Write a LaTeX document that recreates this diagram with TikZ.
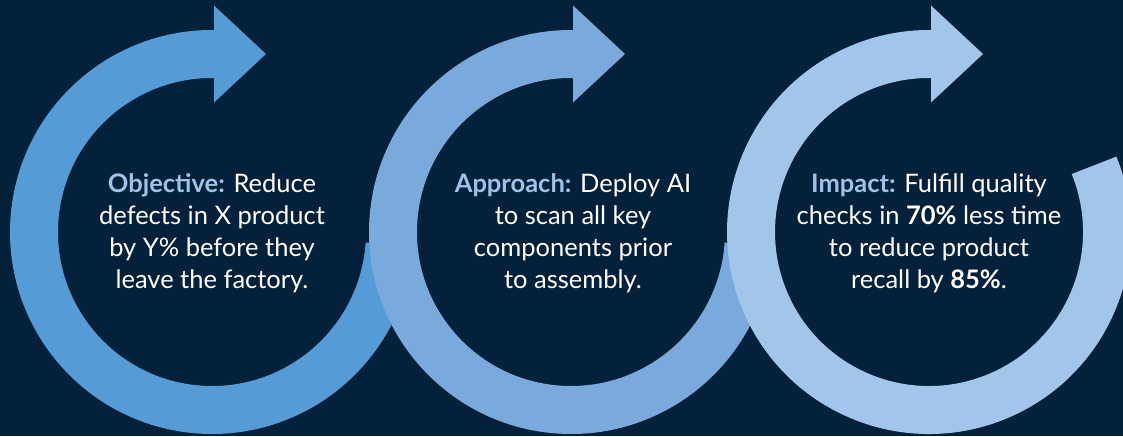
\documentclass[tikz,border=0pt]{standalone}
\usepackage{fontspec}
\setmainfont{Lato}
\definecolor{bgnavy}{HTML}{03213A}
\definecolor{ringA}{HTML}{559CD6}
\definecolor{ringB}{HTML}{7AAADB}
\definecolor{ringC}{HTML}{A2C6EA}
\definecolor{headblue}{HTML}{9DC3E8}
\tikzset{
  ringstroke/.style={line width=48pt},
  caption/.style={text=white, align=center, inner sep=0pt,
    font=\fontsize{25.5}{32}\selectfont},
}
% one circular arrow: centre x, tail angle, colour
\newcommand\cyclearrow[3]{%
  \draw[ringstroke,#3] (#1,204) ++(#2:178) arc[start angle=#2,end angle=-271,radius=178];
  \fill[#3] (#1+2,333.5) -- (#1+2,430.5) -- (#1+54,382) -- cycle;
}
\newcommand\hd[1]{\textcolor{headblue}{\textbf{#1}}}
\begin{document}
\begin{tikzpicture}[x=1pt,y=1pt]
\fill[bgnavy] (0,0) rectangle (1123,436);
\useasboundingbox (0,0) rectangle (1123,436);
\cyclearrow{212}{-4}{ringA}
\cyclearrow{571}{-4}{ringB}
\cyclearrow{929}{22}{ringC}
\node[caption] (objective) at (212,203)
  {\hd{Objective:} Reduce\\defects in X product\\by Y\% before they\\leave the factory.};
\node[caption] (approach) at (573,203)
  {\hd{Approach:} Deploy AI\\to scan all key\\components prior\\to assembly.};
\node[caption] (impact) at (929,203)
  {\hd{Impact:} Fulfill quality\\checks in \textbf{70\%} less time\\to reduce product\\recall by \textbf{85\%}.};
\end{tikzpicture}
\end{document}
